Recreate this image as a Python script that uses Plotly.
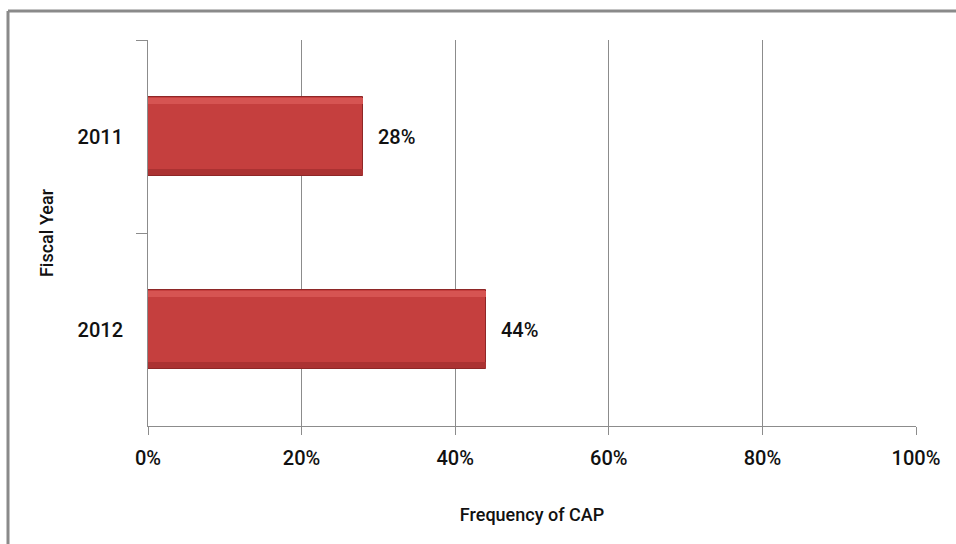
import plotly.graph_objects as go

# Share of cases with a CAP, by fiscal year
years = ["2011", "2012"]
cap_share = [0.28, 0.44]
x_ticks = [0, 0.2, 0.4, 0.6, 0.8, 1.0]
x_tick_labels = ["0%", "20%", "40%", "60%", "80%", "100%"]

FONT = "Roboto, Liberation Sans, sans-serif"
GRID = "#8c8c8c"
BAR_W = 0.41

fig = go.Figure()

# main bar body
fig.add_trace(go.Bar(
    y=years, x=cap_share, orientation="h", width=BAR_W,
    marker=dict(color="#c53f3e", line=dict(color="#8e2727", width=1)),
    hoverinfo="skip", showlegend=False,
))
# bevel highlights: light upper edge, darker lower edge
fig.add_trace(go.Bar(
    y=years, x=cap_share, orientation="h", width=0.03, offset=-BAR_W / 2 + 0.004,
    marker=dict(color="#d65452", line=dict(width=0)),
    hoverinfo="skip", showlegend=False,
))
fig.add_trace(go.Bar(
    y=years, x=cap_share, orientation="h", width=0.035, offset=BAR_W / 2 - 0.039,
    marker=dict(color="#ab3232", line=dict(width=0)),
    hoverinfo="skip", showlegend=False,
))

# value labels to the right of each bar (y given as category index)
for i, v in enumerate(cap_share):
    fig.add_annotation(
        x=v, y=i, text=f"{round(v * 100)}%", showarrow=False,
        xanchor="left", xshift=13,
        font=dict(family=FONT, size=20, color="#111111", weight=500),
    )

# outer frame (top and left edges)
fx0 = (8 - 148) / 768
fy1 = 1 + (40 - 11) / 386
fig.add_shape(type="line", xref="paper", yref="paper", x0=fx0, x1=fx0, y0=-0.4, y1=fy1,
              line=dict(color="#8a8a8a", width=3), layer="above")
fig.add_shape(type="line", xref="paper", yref="paper", x0=fx0, x1=1.2, y0=fy1, y1=fy1,
              line=dict(color="#8a8a8a", width=3), layer="above")

fig.update_layout(
    width=956, height=544,
    margin=dict(l=148, r=40, t=40, b=118),
    paper_bgcolor="white", plot_bgcolor="white",
    barmode="overlay", bargap=0,
    font=dict(family=FONT, size=20, color="#111111", weight=500),
    xaxis=dict(
        range=[0, 1], tickvals=x_ticks, ticktext=x_tick_labels,
        showgrid=True, gridcolor=GRID, gridwidth=1, zeroline=False,
        showline=True, linecolor=GRID, linewidth=1,
        ticks="outside", ticklen=8, tickcolor=GRID,
        ticklabelstandoff=6,
        tickfont=dict(size=20, weight=500),
        title=dict(text="Frequency of CAP", font=dict(size=18, weight=500), standoff=39),
    ),
    yaxis=dict(
        type="category", categoryorder="array", categoryarray=years,
        range=[1.5, -0.5], autorange=False, tickson="boundaries",
        showgrid=False, zeroline=False,
        showline=True, linecolor=GRID, linewidth=1,
        ticks="outside", ticklen=11, tickcolor=GRID,
        ticklabelstandoff=20,
        tickfont=dict(size=20, weight=500),
        title=dict(text="Fiscal Year", font=dict(size=18, weight=500), standoff=19),
    ),
)

fig.write_html("out.html")
